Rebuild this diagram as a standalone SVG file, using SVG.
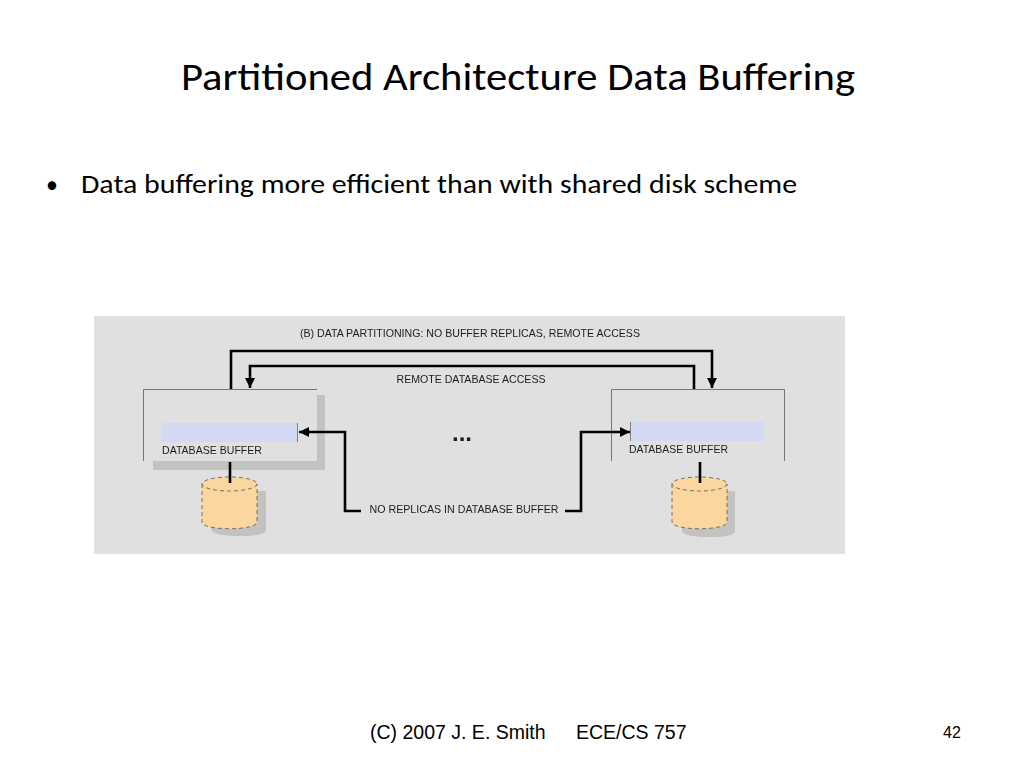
<svg xmlns="http://www.w3.org/2000/svg" width="1024" height="768" viewBox="0 0 1024 768">
<style>
.cal{font-family:"Carlito","Open Sans","Liberation Sans",sans-serif;fill:#000}
.lab{font-family:"Liberation Sans",Arial,sans-serif;font-size:10.500px;fill:#1c1c1c}
.foot{font-family:"Liberation Sans",Arial,sans-serif;fill:#000}
.box{fill:none;stroke:#777;stroke-width:1}
.wire{fill:none;stroke:#000;stroke-width:2.600}
.cyl{fill:#fbd69f;stroke:#555;stroke-width:.8;stroke-dasharray:4 3}
.buf{fill:#d3d9f3}
.sh{fill:#c2c2c0}
</style>
<defs>
<marker id="arr" markerUnits="userSpaceOnUse" markerWidth="12" markerHeight="10" refX="10" refY="5" orient="auto"><path d="M0 0L10 5L0 10Z" fill="#000"/></marker>
<filter id="soft" x="-5%" y="-5%" width="110%" height="110%"><feGaussianBlur stdDeviation="0.400"/></filter>
</defs>
<rect width="1024" height="768" fill="#fff"/>
<text x="518" y="90" text-anchor="middle" class="cal" font-size="39" textLength="674" lengthAdjust="spacingAndGlyphs">Partitioned Architecture Data Buffering</text>
<text x="46" y="193" class="cal" font-size="24">•</text>
<text x="81" y="193" class="cal" font-size="27" textLength="716" lengthAdjust="spacingAndGlyphs">Data buffering more efficient than with shared disk scheme</text>
<rect x="94" y="316" width="751" height="238" fill="#e0e0e0"/>
<g filter="url(#soft)">
<g id="node-left">
<path class="sh" d="M317 395H325V470H153V461H317Z"/>
<path class="box" d="M143.500 461V389.500H317"/>
<rect class="buf" x="162" y="423" width="135" height="19"/>
<path d="M297.500 423V442" stroke="#555" stroke-width=".7"/>
<text x="162" y="454" class="lab" textLength="100" lengthAdjust="spacingAndGlyphs">DATABASE BUFFER</text>
</g>
<g id="node-right">
<path class="box" d="M611.500 461V389.500H784.500V461"/>
<rect class="buf" x="630" y="422" width="134" height="19"/>
<path d="M630.500 422V441" stroke="#555" stroke-width=".7"/>
<text x="629" y="453" class="lab" textLength="99" lengthAdjust="spacingAndGlyphs">DATABASE BUFFER</text>
</g>
<g id="disk-left">
<path d="M211 491H266V530Q266 536 239 536Q213 536 211 529Z" class="sh"/>
<path class="cyl" d="M202 484V522C202 531 257 531 257 522V484Z"/>
<ellipse class="cyl" cx="229.500" cy="484" rx="27.500" ry="7"/>
</g>
<g id="disk-right">
<path d="M682 491H735V531Q735 537 708 537Q682 537 682 530Z" class="sh"/>
<path class="cyl" d="M672 484V522C672 531 727 531 727 522V484Z"/>
<ellipse class="cyl" cx="699.500" cy="484" rx="27.500" ry="7"/>
</g>
<g id="connectors">
<path class="wire" d="M231 389V351H712V388" marker-end="url(#arr)"/>
<path class="wire" d="M694 389V366H250V388" marker-end="url(#arr)"/>
<path class="wire" d="M361 511H345V432H299" marker-end="url(#arr)"/>
<path class="wire" d="M565 511H581V432H630" marker-end="url(#arr)"/>
<path class="wire" d="M230 462V483"/>
<path class="wire" d="M700 462V483"/>
</g>
<text x="470" y="337" text-anchor="middle" class="lab" textLength="340" lengthAdjust="spacingAndGlyphs">(B) DATA PARTITIONING: NO BUFFER REPLICAS, REMOTE ACCESS</text>
<text x="471" y="383" text-anchor="middle" class="lab" textLength="149" lengthAdjust="spacingAndGlyphs">REMOTE DATABASE ACCESS</text>
<text x="462" y="441" text-anchor="middle" class="lab" style="font-size:24px;font-weight:bold" textLength="20" lengthAdjust="spacing">...</text>
<text x="464" y="513" text-anchor="middle" class="lab" textLength="189" lengthAdjust="spacingAndGlyphs">NO REPLICAS IN DATABASE BUFFER</text>
</g>
<text y="739" class="foot" font-size="19.500"><tspan x="370">(C) 2007 J. E. Smith</tspan><tspan x="576">ECE/CS 757</tspan></text>
<text x="952" y="738" text-anchor="middle" class="foot" font-size="16">42</text>
</svg>
